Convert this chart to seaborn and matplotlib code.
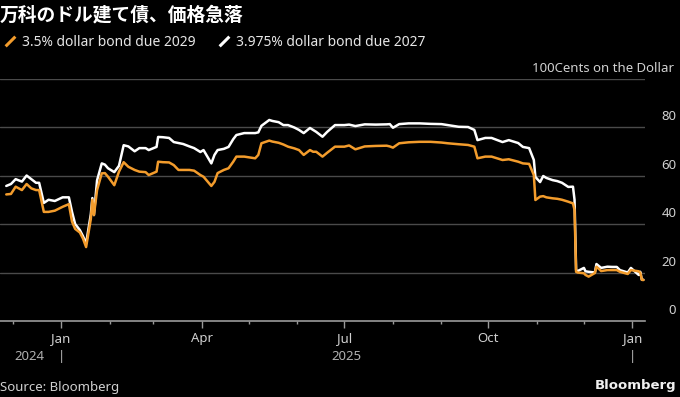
import pandas as pd
import numpy as np
import seaborn as sns
import matplotlib
matplotlib.use("Agg")
import matplotlib.pyplot as plt
import matplotlib.dates as mdates
from matplotlib.lines import Line2D
from matplotlib.transforms import blended_transform_factory

# Price of Vanke dollar bonds, cents on the dollar
dates = [
    "2024-11-27", "2024-11-30", "2024-12-03", "2024-12-07", "2024-12-10", "2024-12-13",
    "2024-12-16", "2024-12-18", "2024-12-21", "2024-12-24", "2024-12-28", "2025-01-02",
    "2025-01-06", "2025-01-08", "2025-01-10", "2025-01-13", "2025-01-15", "2025-01-17",
    "2025-01-20", "2025-01-21", "2025-01-22", "2025-01-24", "2025-01-27", "2025-01-29",
    "2025-01-31", "2025-02-04", "2025-02-07", "2025-02-10", "2025-02-13", "2025-02-17",
    "2025-02-20", "2025-02-24", "2025-02-26", "2025-03-03", "2025-03-04", "2025-03-07",
    "2025-03-11", "2025-03-14", "2025-03-17", "2025-03-20", "2025-03-24", "2025-03-27",
    "2025-03-31", "2025-04-02", "2025-04-07", "2025-04-09", "2025-04-11", "2025-04-15",
    "2025-04-18", "2025-04-21", "2025-04-23", "2025-04-28", "2025-05-01", "2025-05-05",
    "2025-05-07", "2025-05-09", "2025-05-14", "2025-05-16", "2025-05-20", "2025-05-23",
    "2025-05-26", "2025-05-30", "2025-06-02", "2025-06-05", "2025-06-09", "2025-06-11",
    "2025-06-13", "2025-06-17", "2025-06-20", "2025-06-25", "2025-07-01", "2025-07-04",
    "2025-07-08", "2025-07-14", "2025-07-21", "2025-07-28", "2025-07-30", "2025-08-01",
    "2025-08-05", "2025-08-11", "2025-08-18", "2025-08-25", "2025-09-01", "2025-09-05",
    "2025-09-12", "2025-09-18", "2025-09-22", "2025-09-24", "2025-09-29", "2025-10-03",
    "2025-10-10", "2025-10-14", "2025-10-20", "2025-10-23", "2025-10-27", "2025-10-30",
    "2025-10-31", "2025-11-03", "2025-11-05", "2025-11-07", "2025-11-11", "2025-11-14",
    "2025-11-17", "2025-11-21", "2025-11-24", "2025-11-25", "2025-11-26", "2025-11-27",
    "2025-12-01", "2025-12-02", "2025-12-04", "2025-12-08", "2025-12-09", "2025-12-12",
    "2025-12-16", "2025-12-19", "2025-12-22", "2025-12-24", "2025-12-29", "2025-12-31",
    "2026-01-05", "2026-01-06", "2026-01-07", "2026-01-08",
]
bond_2027 = [
    55.7, 56.5, 58.5, 57.5, 60.0, 58.5, 57.0, 57.0, 48.7, 50.0, 49.5, 51.0,
    51.0, 45.0, 40.0, 37.5, 35.0, 32.0, 44.0, 50.7, 43.7, 58.0, 65.0, 64.5,
    63.0, 61.4, 64.0, 72.5, 72.0, 70.0, 71.3, 71.3, 70.5, 71.8, 75.9, 75.8,
    75.5, 73.8, 73.4, 73.0, 72.0, 71.3, 69.7, 70.5, 65.0, 68.5, 70.5, 71.0,
    71.8, 75.0, 76.7, 77.5, 77.5, 77.5, 77.8, 80.5, 82.9, 82.5, 82.0, 80.8,
    80.8, 79.8, 78.8, 77.5, 79.6, 78.8, 78.0, 76.0, 78.0, 80.8, 80.8, 81.0,
    80.4, 81.1, 81.0, 81.1, 81.2, 79.7, 81.2, 81.5, 81.5, 81.3, 81.2, 80.8,
    80.1, 80.0, 78.8, 74.6, 75.5, 75.5, 73.8, 74.6, 73.4, 71.8, 71.3, 66.4,
    59.4, 57.3, 59.8, 59.0, 58.1, 57.7, 57.0, 55.3, 55.4, 50.0, 21.0, 20.6,
    21.9, 20.5, 20.3, 20.0, 23.5, 21.9, 22.4, 22.3, 22.3, 21.0, 20.0, 21.9,
    19.0, 20.3, 17.0, 17.0,
]
bond_2029 = [
    52.2, 52.4, 55.4, 54.0, 56.5, 54.7, 54.0, 54.0, 45.0, 45.0, 45.5, 47.1,
    48.2, 41.0, 38.0, 36.5, 34.0, 30.5, 42.0, 50.0, 43.7, 54.0, 60.9, 61.0,
    59.5, 56.0, 61.6, 65.5, 63.6, 62.3, 61.6, 61.4, 60.2, 61.6, 65.7, 65.5,
    65.4, 64.3, 62.3, 62.3, 62.3, 62.0, 60.2, 59.5, 55.7, 57.4, 61.0, 62.3,
    63.0, 65.7, 67.8, 67.8, 67.5, 67.1, 68.5, 73.3, 74.4, 74.0, 73.5, 72.8,
    71.9, 71.2, 70.5, 68.5, 70.5, 69.8, 69.8, 67.8, 69.4, 71.9, 71.9, 72.4,
    70.8, 72.0, 72.2, 72.3, 72.0, 71.5, 73.3, 73.7, 73.9, 73.9, 73.6, 73.3,
    72.9, 72.6, 71.9, 67.1, 67.8, 67.8, 66.4, 66.7, 65.7, 65.0, 64.8, 60.2,
    49.9, 51.3, 51.5, 51.0, 50.6, 50.4, 50.0, 49.2, 48.5, 45.8, 20.3, 20.0,
    19.7, 19.0, 18.3, 19.8, 22.4, 20.6, 21.0, 21.0, 21.0, 20.3, 19.4, 21.0,
    20.5, 19.9, 17.0, 16.9,
]
series_names = ["3.5% dollar bond due 2029", "3.975% dollar bond due 2027"]
colors = ["#f39c2c", "#ffffff"]

df = pd.DataFrame({
    "date": pd.to_datetime(dates * 2),
    "price": bond_2027 + bond_2029,
    "bond": [series_names[1]] * len(dates) + [series_names[0]] * len(dates),
})

sns.set_theme(style="dark")
plt.rcParams['font.family'] = ['Noto Sans', 'Noto Sans CJK JP', 'DejaVu Sans']

fig = plt.figure(figsize=(6.8, 3.97), dpi=100, facecolor="black")
ax = fig.add_axes([0.0, 0.1914, 0.9485, 0.6108])
ax.set_facecolor("black")

# white drawn first so the orange line sits on top
sns.lineplot(data=df, x="date", y="price", hue="bond",
             hue_order=[series_names[1], series_names[0]],
             palette=[colors[1], colors[0]], linewidth=1.8, legend=False, ax=ax)

ax.set_xlim(pd.Timestamp("2024-11-23"), pd.Timestamp("2026-01-09"))
ax.set_ylim(0, 100)
ax.set_xlabel("")
ax.set_ylabel("")

# grid
for v in [20, 40, 60, 80, 100]:
    ax.axhline(v, color="#4a4a4a", lw=1.0, zorder=0)
ax.grid(False)
for s in ["top", "left", "right"]:
    ax.spines[s].set_visible(False)
ax.spines["bottom"].set_color("#9a9a9a")
ax.spines["bottom"].set_linewidth(1.2)

# x axis ticks
ax.xaxis.set_major_locator(mdates.MonthLocator(bymonth=[1, 4, 7, 10]))
ax.xaxis.set_major_formatter(mdates.DateFormatter("%b"))
ax.xaxis.set_minor_locator(mdates.MonthLocator())
ax.tick_params(axis="x", which="major", length=5, width=1, color="#9a9a9a",
               labelcolor="#d0d0d0", labelsize=9.5, pad=3, bottom=True)
ax.tick_params(axis="x", which="minor", length=2.5, width=1, color="#9a9a9a", bottom=True)

# y axis labels on the right, sitting above the gridlines
ax.set_yticks([])
ytr = blended_transform_factory(ax.transAxes, ax.transData)
for v in [0, 20, 40, 60, 80]:
    ax.text(1.0485, v + 1.5, str(v), transform=ytr, ha="right", va="bottom",
            color="#d0d0d0", fontsize=9.5, clip_on=False)
ax.text(1.0455, 101.5, "100Cents on the Dollar", transform=ytr, ha="right", va="bottom",
        color="#d0d0d0", fontsize=9.5, clip_on=False)

# year row
xtr = blended_transform_factory(ax.transData, ax.transAxes)
ax.text(pd.Timestamp("2024-12-12"), -0.145, "2024", transform=xtr, ha="center", va="center",
        color="#b0b0b0", fontsize=9.5)
ax.text(pd.Timestamp("2025-07-02"), -0.145, "2025", transform=xtr, ha="center", va="center",
        color="#b0b0b0", fontsize=9.5)
for d in ["2025-01-01", "2026-01-01"]:
    ax.text(pd.Timestamp(d), -0.145, "|", transform=xtr, ha="center", va="center",
            color="#b0b0b0", fontsize=9.5)

# title
fig.text(0.0, 0.963, "万科のドル建て債、価格急落", ha="left", va="center",
         color="white", fontsize=13.5, fontweight="bold",
         family=['Noto Sans CJK JP', 'DejaVu Sans'])

# legend with slash markers
slash = [(-1, -1), (1, 1)]
handles = [Line2D([], [], lw=0, marker=slash, markersize=7, markeredgewidth=2.2,
                  color=c) for c in colors]
fig.legend(handles, series_names, loc="center left", bbox_to_anchor=(-0.012, 0.893),
           ncol=2, frameon=False, handlelength=0.8, handletextpad=0.5,
           columnspacing=1.6, labelcolor="#e6e6e6", fontsize=10)

fig.text(0.0, 0.025, "Source: Bloomberg", ha="left", va="center", color="#d0d0d0", fontsize=9.5)
fig.text(0.995, 0.03, "Bloomberg", ha="right", va="center", color="#f0f0f0",
         fontsize=9.5, fontweight="bold", family=['DejaVu Sans'])

fig.savefig("out.png", dpi=100, facecolor="black")
